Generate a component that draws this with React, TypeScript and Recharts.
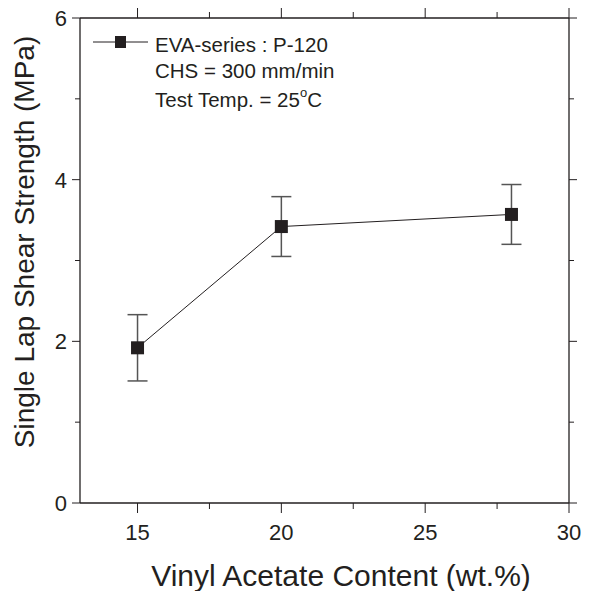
import { LineChart, Line, XAxis, YAxis, ErrorBar, Customized } from "recharts";

const vaContent = [15, 20, 28];
const shearStrength = [1.92, 3.42, 3.57];
const shearError = [0.41, 0.37, 0.37];

const xTicks = [15, 17.5, 20, 22.5, 25, 27.5, 30];
const yTicks = [0, 1, 2, 3, 4, 5, 6];

const legendLines = ["EVA-series : P-120", "CHS = 300 mm/min", "Test Temp. = 25"];

const data = vaContent.map((v, i) => ({
  va: v,
  strength: shearStrength[i],
  err: shearError[i]
}));

const FONT = "'Liberation Sans', Arial, sans-serif";
const INK = "#231f20";

const isMajor = (v: number) => Number.isInteger(v) && v % 2 === 0;

const BottomTick = (props: any) => {
  const { x, y, payload } = props;
  const v = payload.value;
  const major = Number.isInteger(v);
  return (
    <g>
      <line x1={x} x2={x} y1={y} y2={y + (major ? 10 : 6)} stroke={INK} strokeWidth={1} />
      {major && (
        <text x={x} y={y + 37} textAnchor="middle" fontSize={22} fontFamily={FONT} fill={INK}>
          {v}
        </text>
      )}
    </g>
  );
};

const TopTick = (props: any) => {
  const { x, y, payload } = props;
  const major = Number.isInteger(payload.value);
  return <line x1={x} x2={x} y1={y} y2={y - (major ? 10 : 6)} stroke={INK} strokeWidth={1} />;
};

const LeftTick = (props: any) => {
  const { x, y, payload } = props;
  const v = payload.value;
  const major = isMajor(v);
  return (
    <g>
      <line x1={x} x2={x - (major ? 8 : 5)} y1={y} y2={y} stroke={INK} strokeWidth={1} />
      {major && (
        <text x={x - 13} y={y + 8} textAnchor="end" fontSize={22} fontFamily={FONT} fill={INK}>
          {v}
        </text>
      )}
    </g>
  );
};

const RightTick = (props: any) => {
  const { x, y, payload } = props;
  const major = isMajor(payload.value);
  return <line x1={x} x2={x + (major ? 8 : 5)} y1={y} y2={y} stroke={INK} strokeWidth={1} />;
};

const SquareDot = (props: any) => {
  const { cx, cy } = props;
  if (cx == null || cy == null) return null;
  return <rect x={cx - 6.5} y={cy - 6.5} width={13} height={13} fill={INK} />;
};

const Annotation = () => (
  <g fontFamily={FONT} fill={INK} fontSize={20.5}>
    <line x1={93} x2={148} y1={42} y2={42} stroke={INK} strokeWidth={1} />
    <rect x={115} y={36} width={11} height={12} fill={INK} />
    <text x={155} y={52}>{legendLines[0]}</text>
    <text x={155} y={78}>{legendLines[1]}</text>
    <text x={155} y={107}>
      {legendLines[2]}
      <tspan dy={-10} fontSize={13}>o</tspan>
      <tspan dy={10}>C</tspan>
    </text>
    <text x={341} y={586} textAnchor="middle" fontSize={30}>
      Vinyl Acetate Content (wt.%)
    </text>
    <text
      x={0}
      y={0}
      textAnchor="middle"
      fontSize={28}
      transform="translate(34 242) rotate(-90)"
    >
      Single Lap Shear Strength (MPa)
    </text>
  </g>
);

export default function App() {
  return (
    <div style={{ position: "absolute", left: 0, top: 0, width: 615, height: 591, background: "#fff" }}>
      <LineChart
        width={615}
        height={591}
        data={data}
        margin={{ top: 8, right: 36, bottom: 58, left: 40 }}
      >
        <XAxis
          xAxisId="b"
          dataKey="va"
          type="number"
          domain={[13, 30]}
          ticks={xTicks}
          interval={0}
          tick={<BottomTick />}
          tickLine={false}
          tickSize={0}
          tickMargin={0}
          height={30}
          axisLine={{ stroke: INK, strokeWidth: 1.3 }}
          allowDataOverflow
        />
        <XAxis
          xAxisId="t"
          orientation="top"
          dataKey="va"
          type="number"
          domain={[13, 30]}
          ticks={xTicks}
          interval={0}
          tick={<TopTick />}
          tickLine={false}
          tickSize={0}
          tickMargin={0}
          height={10}
          axisLine={{ stroke: INK, strokeWidth: 1.3 }}
          allowDataOverflow
        />
        <YAxis
          yAxisId="l"
          type="number"
          domain={[0, 6]}
          ticks={yTicks}
          interval={0}
          tick={<LeftTick />}
          tickLine={false}
          tickSize={0}
          tickMargin={0}
          width={40}
          axisLine={{ stroke: INK, strokeWidth: 1.3 }}
          allowDataOverflow
        />
        <YAxis
          yAxisId="r"
          orientation="right"
          type="number"
          domain={[0, 6]}
          ticks={yTicks}
          interval={0}
          tick={<RightTick />}
          tickLine={false}
          tickSize={0}
          tickMargin={0}
          width={10}
          axisLine={{ stroke: INK, strokeWidth: 1.3 }}
          allowDataOverflow
        />
        <Line
          xAxisId="b"
          yAxisId="l"
          dataKey="strength"
          type="linear"
          stroke={INK}
          strokeWidth={1}
          dot={<SquareDot />}
          activeDot={false}
          isAnimationActive={false}
        >
          <ErrorBar dataKey="err" direction="y" width={10} stroke="#555" strokeWidth={1.5} />
        </Line>
        <Customized component={<Annotation />} />
      </LineChart>
    </div>
  );
}
